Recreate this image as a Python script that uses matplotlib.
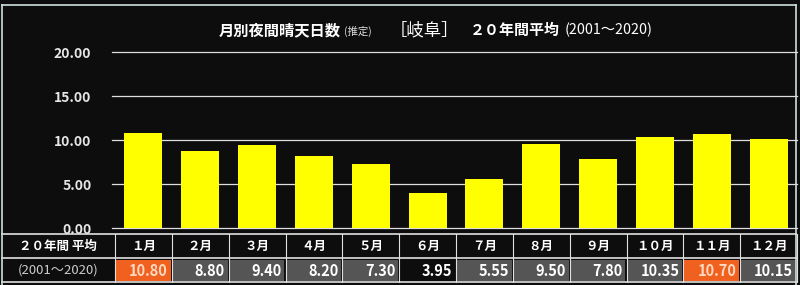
import matplotlib
matplotlib.use("Agg")
import matplotlib.pyplot as plt
from matplotlib.patches import Rectangle
from matplotlib.lines import Line2D
import matplotlib.transforms as mtransforms

plt.rcParams['font.family'] = ['Noto Sans CJK JP', 'DejaVu Sans']

months = ["１月", "２月", "３月", "４月", "５月", "６月", "７月", "８月", "９月", "１０月", "１１月", "１２月"]
values = [10.80, 8.80, 9.40, 8.20, 7.30, 3.95, 5.55, 9.50, 7.80, 10.35, 10.70, 10.15]
yticks = [0, 5, 10, 15, 20]
row_head = "２０年間 平均"
row_sub = "(2001～2020)"

BG = '#0d0d0d'
W, H = 800, 285
fig = plt.figure(figsize=(W / 100, H / 100), dpi=100, facecolor=BG)

def fx(px):
    return px / W

def fy(py):
    return 1 - py / H

# axes: y=0 at pixel 228, y=20 at pixel 52
y0_px, y20_px = 228, 52
ppu = (y0_px - y20_px) / 20.0
top_px = 44
ytop = (y0_px - top_px) / ppu
ax = fig.add_axes([fx(115), fy(y0_px), fx(797) - fx(115), (y0_px - top_px) / H])
ax.set_facecolor(BG)
ax.set_xlim(-0.5, len(months) - 0.5)
ax.set_ylim(0, ytop)
for s in ax.spines.values():
    s.set_visible(False)
for t in yticks:
    ax.axhline(t, color='#e0e0e0', lw=0.9, zorder=1, xmin=-0.004, clip_on=False)
ax.bar(range(len(values)), values, width=0.67, color='#ffff00', zorder=2)
ax.set_yticks(yticks)
ax.set_yticklabels([f"{t:.2f}" for t in yticks], color='#e6e6e6', fontsize=10, fontweight='bold')
ax.tick_params(axis='y', length=0, pad=17)
ax.set_xticks([])

# title
ty = fy(30)
fig.text(fx(219), ty, "月別夜間晴天日数", color='white', fontsize=11, fontweight='bold', va='center', ha='left')
fig.text(fx(344), ty - 0.004, "(推定)", color='#dddddd', fontsize=7.5, va='center', ha='left')
fig.text(fx(390), ty - 0.003, "［岐阜］", color='white', fontsize=12.5, va='center', ha='left')
fig.text(fx(470), ty, "２０年間平均", color='white', fontsize=10.8, fontweight='bold', va='center', ha='left')
fig.text(fx(565), ty, "(2001～2020)", color='white', fontsize=10.3, va='center', ha='left')

# outer frame
frame_c = '#cfdede'
fig.add_artist(Line2D([fx(2), fx(796)], [fy(5), fy(5)], color=frame_c, lw=1.2))
fig.add_artist(Line2D([fx(2), fx(2)], [fy(5), fy(285)], color=frame_c, lw=1.2))
fig.add_artist(Line2D([fx(796), fx(796)], [fy(5), fy(285)], color=frame_c, lw=1.2))

# table
trans = mtransforms.blended_transform_factory(ax.transData, fig.transFigure)
r1_top, r1_bot, r2_bot = 235, 258, 282
line_c = '#e0e0e0'

order = sorted(range(len(values)), key=lambda i: values[i])
min_i = order[0]
top2 = set(order[-2:])

for i, (m, v) in enumerate(zip(months, values)):
    fig.text(i, fy((r1_top + r1_bot) / 2), m, transform=trans, color='white', fontsize=9,
             fontweight='bold', ha='center', va='center')
    if i in top2:
        fc, tc = '#f0601e', '#ffd9c2'
    elif i == min_i:
        fc, tc = '#0d0d0d', 'white'
    else:
        fc, tc = '#555555', 'white'
    rect = Rectangle((i - 0.5 + 0.02, fy(r2_bot - 1)), 0.96, (r2_bot - r1_bot - 3) / H,
                     transform=trans, facecolor=fc, edgecolor='none')
    fig.add_artist(rect)
    fig.text(i + 0.43, fy((r1_bot + r2_bot) / 2 + 0.5), f"{v:.2f}", transform=trans, color=tc,
             fontsize=10.5, fontweight='bold', ha='right', va='center')

fig.text(fx(58), fy((r1_top + r1_bot) / 2), row_head, color='white', fontsize=9,
         fontweight='bold', ha='center', va='center')
fig.text(fx(58), fy((r1_bot + r2_bot) / 2), row_sub, color='#cccccc', fontsize=9.5,
         ha='center', va='center')

for py in (r1_top - 1, r1_bot, r2_bot):
    fig.add_artist(Line2D([fx(2), fx(796)], [fy(py), fy(py)], color=line_c, lw=1.2))
for i in range(len(months) + 1):
    fig.add_artist(Line2D([i - 0.5, i - 0.5], [fy(r1_top - 1), fy(r2_bot)], transform=trans,
                          color=line_c, lw=0.8))

fig.savefig("out.png", dpi=100, facecolor=BG)
